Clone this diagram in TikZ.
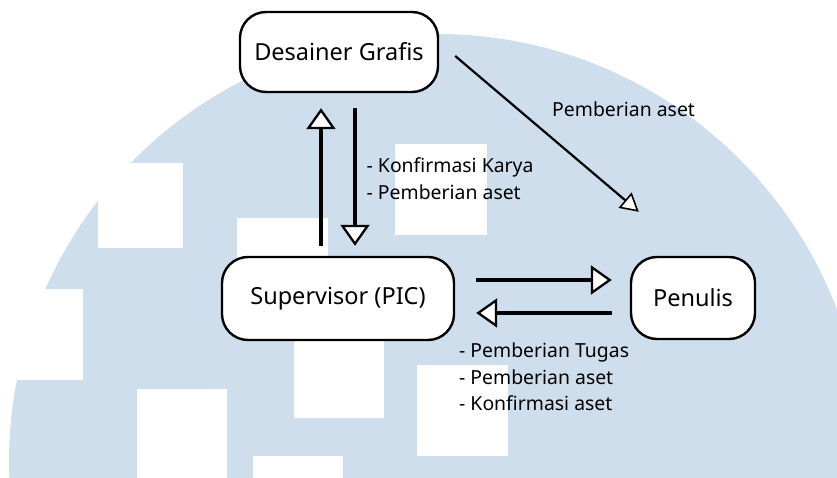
\documentclass[tikz,border=0pt]{standalone}
\usepackage{fontspec}
\setmainfont{Noto Sans}
\usetikzlibrary{arrows.meta}
\definecolor{bgblue}{RGB}{206,222,237}
\begin{document}
\begin{tikzpicture}[x=1pt,y=-1pt,
  box/.style={draw=black, line width=2.4pt, fill=white, rounded corners=26pt,
    inner sep=0pt, font=\fontsize{23.5}{27}\selectfont},
  bigarr/.style={line width=4pt, -{Triangle[width=29pt,length=21pt,fill=white,line width=2.3pt]}},
  thinarr/.style={line width=2.2pt, -{Triangle[width=20pt,length=18pt,fill=white,line width=1.6pt]}},
  lab/.style={anchor=base west, inner sep=0pt, font=\fontsize{19.4}{26}\selectfont},
  sq/.style={fill=white}
]
\useasboundingbox (0,0) rectangle (837,478);
% background watermark
\begin{scope}
  \clip (0,0) rectangle (837,478);
  \fill[bgblue] (437,462) circle[radius=428pt];
  \fill[sq] (98,163) rectangle (183,248);
  \fill[sq] (0,289) rectangle (83,380);
  \fill[sq] (137,389) rectangle (227,478);
  \fill[sq] (253,456) rectangle (343,478);
  \fill[sq] (237,218) rectangle (328,308);
  \fill[sq] (294,328) rectangle (384,418);
  \fill[sq] (395,144) rectangle (487,235);
  \fill[sq] (417,365) rectangle (508,456);
\end{scope}

% nodes
\node[box, minimum width=198pt, minimum height=80pt] (des) at (339,52) {Desainer Grafis};
\node[box, minimum width=232pt, minimum height=83pt] (sup) at (338,298.5) {Supervisor (PIC)};
\node[box, minimum width=124pt, minimum height=82pt] (pen) at (693,298) {Penulis};

% connectors
\draw[bigarr, shorten <=10pt, shorten >=15pt] (sup.north -| 321,0) -- (des.south -| 321,0);
\draw[bigarr, shorten <=15pt, shorten >=10pt] (des.south -| 355,0) -- (sup.north -| 355,0);
\draw[bigarr, shorten <=21pt, shorten >=18pt] (sup.east |- 0,280) -- (pen.west |- 0,280);
\draw[bigarr, shorten <=18pt, shorten >=21pt] (pen.west |- 0,313) -- (sup.east |- 0,313);
\draw[thinarr] ([shift={(16,4)}]des.east) -- ([shift={(9,-44)}]pen.north west);

% labels
\node[lab] (k1) at (366.5,173) {- Konfirmasi Karya};
\node[lab] (k2) at (366.5,200) {- Pemberian aset};
\node[lab] (p0) at (552,117) {Pemberian aset};
\node[lab] (t1) at (459,357) {- Pemberian Tugas};
\node[lab] (t2) at (459,384) {- Pemberian aset};
\node[lab] (t3) at (459,410) {- Konfirmasi aset};
\end{tikzpicture}
\end{document}
